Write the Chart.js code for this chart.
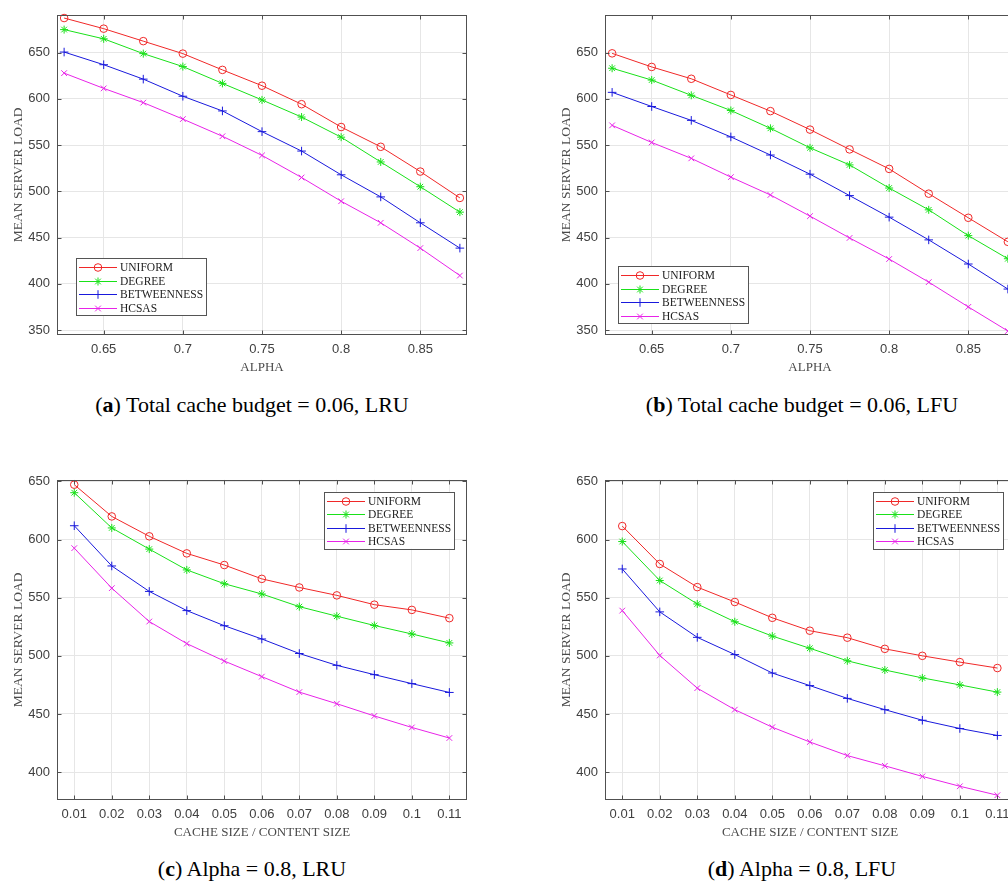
<!DOCTYPE html>
<html lang="en">
<head>
    <meta charset="UTF-8">
    <title>Mean server load</title>
    <script src="https://cdn.jsdelivr.net/npm/chart.js"></script>
    <style>
        html, body {
            margin: 0;
            padding: 0;
            background: #fff;
            overflow: hidden;
            width: 1008px;
            height: 881px;
        }
        canvas {
            position: absolute;
        }
        .caption {
            position: absolute;
            width: 480px;
            text-align: center;
            font-family: "Liberation Serif", serif;
            font-size: 22px;
            color: #000;
            white-space: nowrap;
        }
    </style>
</head>
<body>
    <canvas id="chartA" width="480" height="380" style="left:0;top:0"></canvas>
    <canvas id="chartB" width="480" height="380" style="left:548px;top:0"></canvas>
    <canvas id="chartC" width="480" height="380" style="left:0;top:465px"></canvas>
    <canvas id="chartD" width="480" height="380" style="left:548px;top:465px"></canvas>

    <div class="caption" style="left:12px;top:392px">(<b>a</b>) Total cache budget = 0.06, LRU</div>
    <div class="caption" style="left:562px;top:392px">(<b>b</b>) Total cache budget = 0.06, LFU</div>
    <div class="caption" style="left:12px;top:856px">(<b>c</b>) Alpha = 0.8, LRU</div>
    <div class="caption" style="left:562px;top:856px">(<b>d</b>) Alpha = 0.8, LFU</div>

    <script>
        // x values
        const alphaX = [0.625, 0.65, 0.675, 0.7, 0.725, 0.75, 0.775, 0.8, 0.825, 0.85, 0.875];
        const cacheX = [0.01, 0.02, 0.03, 0.04, 0.05, 0.06, 0.07, 0.08, 0.09, 0.1, 0.11];

        // tick labels
        const alphaTicks = [0.65, 0.7, 0.75, 0.8, 0.85];
        const cacheTicks = [0.01, 0.02, 0.03, 0.04, 0.05, 0.06, 0.07, 0.08, 0.09, 0.1, 0.11];
        const loadTicksTop = [350, 400, 450, 500, 550, 600, 650];
        const loadTicksBottom = [400, 450, 500, 550, 600, 650];

        const seriesNames = ['UNIFORM', 'DEGREE', 'BETWEENNESS', 'HCSAS'];

        // (a) budget 0.06, LRU
        const aUniform = [687.5, 676, 662.5, 649, 631.4, 614.3, 594.3, 569.6, 548.2, 521.4, 492.9];
        const aDegree = [675, 665, 649, 635, 616.8, 598.9, 580.4, 558.6, 531.8, 505, 477.5];
        const aBetweenness = [650.7, 637, 621.4, 602.9, 587, 564.6, 543.6, 517.9, 494, 466, 438.6];
        const aHcsas = [627.9, 611.4, 596, 578.2, 559.6, 538.9, 515, 489.3, 466, 438.6, 408.9];

        // (b) budget 0.06, LFU
        const bUniform = [649.3, 634.6, 621.8, 604.3, 586.8, 566.8, 545.4, 524.3, 497.5, 471.4, 445.4];
        const bDegree = [633.2, 620.4, 603.9, 587.5, 568.2, 547.1, 528.6, 503.6, 480, 452.1, 427.1];
        const bBetweenness = [607.1, 591.8, 576.8, 558.9, 539.3, 518.6, 495.4, 472.1, 447.5, 421.4, 394.3];
        const bHcsas = [571.4, 552.9, 535.7, 515.4, 496.1, 473.2, 449.6, 426.8, 401.8, 375, 348.9];

        // (c) alpha 0.8, LRU
        const cUniform = [647.2, 619.9, 602.8, 588.1, 578.1, 566.2, 558.8, 552, 544, 539.5, 532.4];
        const cDegree = [640.3, 610, 591.8, 573.9, 562, 553.2, 542.3, 534.1, 526.1, 518.8, 511.1];
        const cBetweenness = [611.9, 577.3, 555.4, 538.9, 525.9, 514.5, 502, 491.8, 483.8, 476.1, 468.5];
        const cHcsas = [592.6, 558.2, 529.5, 510.5, 495.5, 482.1, 468.8, 458.8, 448.3, 438.4, 429.3];

        // (d) alpha 0.8, LFU
        const dUniform = [611.6, 579, 559.1, 546.3, 532.7, 521.6, 515.6, 506, 500, 494.6, 489.5];
        const dDegree = [598.3, 564.8, 544.6, 529.3, 517, 506.5, 495.7, 487.8, 481, 475, 468.8];
        const dBetweenness = [574.7, 537.8, 515.9, 501.1, 485.2, 474.4, 463.4, 453.7, 444.6, 437.5, 431.5];
        const dHcsas = [538.9, 500.3, 472.2, 453.7, 438.6, 425.9, 414.2, 405.4, 396.3, 387.8, 380.1];

        const styles = [
            { color: 'rgb(240,40,40)', pointStyle: 'circle', radius: 3.8 },
            { color: 'rgb(25,225,25)', pointStyle: 'star', radius: 4 },
            { color: 'rgb(25,25,220)', pointStyle: 'cross', radius: 4.3 },
            { color: 'rgb(232,35,232)', pointStyle: 'crossRot', radius: 4 }
        ];

        const fmt = v => parseFloat(Number(v).toFixed(3)).toString();

        // small marker drawing for the legend samples
        function drawMarker(ctx, style, x, y) {
            const r = style.radius;
            ctx.beginPath();
            if (style.pointStyle === 'circle') {
                ctx.arc(x, y, r, 0, Math.PI * 2);
            } else {
                const d = r * Math.SQRT1_2;
                if (style.pointStyle !== 'crossRot') {
                    ctx.moveTo(x - r, y); ctx.lineTo(x + r, y);
                    ctx.moveTo(x, y - r); ctx.lineTo(x, y + r);
                }
                if (style.pointStyle !== 'cross') {
                    ctx.moveTo(x - d, y - d); ctx.lineTo(x + d, y + d);
                    ctx.moveTo(x - d, y + d); ctx.lineTo(x + d, y - d);
                }
            }
            ctx.stroke();
        }

        // axes box with inward ticks, like the matlab figures
        const frame = {
            id: 'frame',
            afterDatasetsDraw(chart) {
                const { ctx, chartArea: a, scales } = chart;
                const l = Math.round(a.left) + 0.5, r = Math.round(a.right) - 0.5;
                const t = Math.round(a.top) + 0.5, b = Math.round(a.bottom) - 0.5;
                ctx.save();
                ctx.strokeStyle = '#505050';
                ctx.lineWidth = 1;
                ctx.strokeRect(l, t, r - l, b - t);
                ctx.beginPath();
                scales.x.ticks.forEach(tk => {
                    const px = Math.round(scales.x.getPixelForValue(tk.value)) + 0.5;
                    ctx.moveTo(px, b); ctx.lineTo(px, b - 4);
                    ctx.moveTo(px, t); ctx.lineTo(px, t + 4);
                });
                scales.y.ticks.forEach(tk => {
                    const py = Math.round(scales.y.getPixelForValue(tk.value)) + 0.5;
                    ctx.moveTo(l, py); ctx.lineTo(l + 4, py);
                    ctx.moveTo(r, py); ctx.lineTo(r - 4, py);
                });
                ctx.stroke();
                ctx.restore();
            }
        };

        // legend drawn inside the axes
        const boxLegend = {
            id: 'boxLegend',
            afterDraw(chart, args, opts) {
                const { ctx, chartArea: a } = chart;
                const w = 130, h = 57;
                const bx = opts.corner === 'sw' ? a.left + opts.dx : a.right - opts.dx - w;
                const by = opts.corner === 'sw' ? a.bottom - opts.dy - h : a.top + opts.dy;
                ctx.save();
                ctx.fillStyle = '#fff';
                ctx.fillRect(bx, by, w, h);
                ctx.strokeStyle = '#555';
                ctx.lineWidth = 1;
                ctx.strokeRect(Math.round(bx) + 0.5, Math.round(by) + 0.5, w, h);
                ctx.font = '11.5px "Liberation Serif", serif';
                ctx.textBaseline = 'middle';
                chart.data.datasets.forEach((ds, i) => {
                    const y = Math.round(by + 9 + i * 13.5) + 0.5;
                    ctx.strokeStyle = ds.borderColor;
                    ctx.beginPath();
                    ctx.moveTo(bx + 3, y);
                    ctx.lineTo(bx + 41, y);
                    ctx.stroke();
                    drawMarker(ctx, styles[i], bx + 22, y);
                    ctx.fillStyle = '#222';
                    ctx.fillText(ds.label, bx + 44, y + 0.5);
                });
                ctx.restore();
            }
        };

        function makePanel(id, xs, ys, xTicks, yTicks, xMin, xMax, yMin, yMax, xTitle, legendPos) {
            new Chart(document.getElementById(id), {
                type: 'line',
                data: {
                    datasets: ys.map((vals, i) => ({
                        label: seriesNames[i],
                        data: vals.map((v, j) => ({ x: xs[j], y: v })),
                        borderColor: styles[i].color,
                        borderWidth: 1,
                        pointStyle: styles[i].pointStyle,
                        pointRadius: styles[i].radius,
                        pointBorderColor: styles[i].color,
                        pointBackgroundColor: 'rgba(0,0,0,0)',
                        pointBorderWidth: 1,
                        tension: 0,
                        clip: false
                    }))
                },
                options: {
                    responsive: false,
                    animation: false,
                    layout: { padding: { top: 12, right: 13, left: 0, bottom: 0 } },
                    scales: {
                        x: {
                            type: 'linear',
                            min: xMin,
                            max: xMax,
                            afterBuildTicks: s => { s.ticks = xTicks.map(v => ({ value: v })); },
                            afterFit: s => { s.height = 45; },
                            ticks: {
                                padding: 7,
                                color: '#404040',
                                autoSkip: false,
                                maxRotation: 0,
                                font: { family: '"Liberation Sans", Arial, sans-serif', size: 13 },
                                callback: v => fmt(v)
                            },
                            grid: { color: '#e6e6e6', drawTicks: false },
                            border: { display: false },
                            title: {
                                display: true,
                                text: xTitle,
                                color: '#4a4a4a',
                                font: { family: '"Liberation Serif", serif', size: 13 },
                                padding: { top: 0, bottom: 5 }
                            }
                        },
                        y: {
                            min: yMin,
                            max: yMax,
                            afterBuildTicks: s => { s.ticks = yTicks.map(v => ({ value: v })); },
                            afterFit: s => { s.width = 57; },
                            ticks: {
                                padding: 7,
                                color: '#404040',
                                font: { family: '"Liberation Sans", Arial, sans-serif', size: 13 },
                                callback: v => fmt(v)
                            },
                            grid: { color: '#e6e6e6', drawTicks: false },
                            border: { display: false },
                            title: {
                                display: true,
                                text: 'MEAN SERVER LOAD',
                                color: '#4a4a4a',
                                font: { family: '"Liberation Serif", serif', size: 13.5 },
                                padding: { top: 10, bottom: 0 }
                            }
                        }
                    },
                    plugins: {
                        legend: { display: false },
                        tooltip: { enabled: false },
                        boxLegend: legendPos
                    }
                },
                plugins: [frame, boxLegend]
            });
        }

        makePanel('chartA', alphaX, [aUniform, aDegree, aBetweenness, aHcsas], alphaTicks, loadTicksTop,
            0.6205, 0.8795, 344.6, 691, 'ALPHA', { corner: 'sw', dx: 19, dy: 20 });
        makePanel('chartB', alphaX, [bUniform, bDegree, bBetweenness, bHcsas], alphaTicks, loadTicksTop,
            0.6205, 0.8795, 344.6, 691, 'ALPHA', { corner: 'sw', dx: 13, dy: 12 });
        makePanel('chartC', cacheX, [cUniform, cDegree, cBetweenness, cHcsas], cacheTicks, loadTicksBottom,
            0.0054, 0.1147, 376, 651.4, 'CACHE SIZE / CONTENT SIZE', { corner: 'ne', dx: 13, dy: 12 });
        makePanel('chartD', cacheX, [dUniform, dDegree, dBetweenness, dHcsas], cacheTicks, loadTicksBottom,
            0.0054, 0.1147, 376, 651.4, 'CACHE SIZE / CONTENT SIZE', { corner: 'ne', dx: 12, dy: 12 });
    </script>
</body>
</html>
